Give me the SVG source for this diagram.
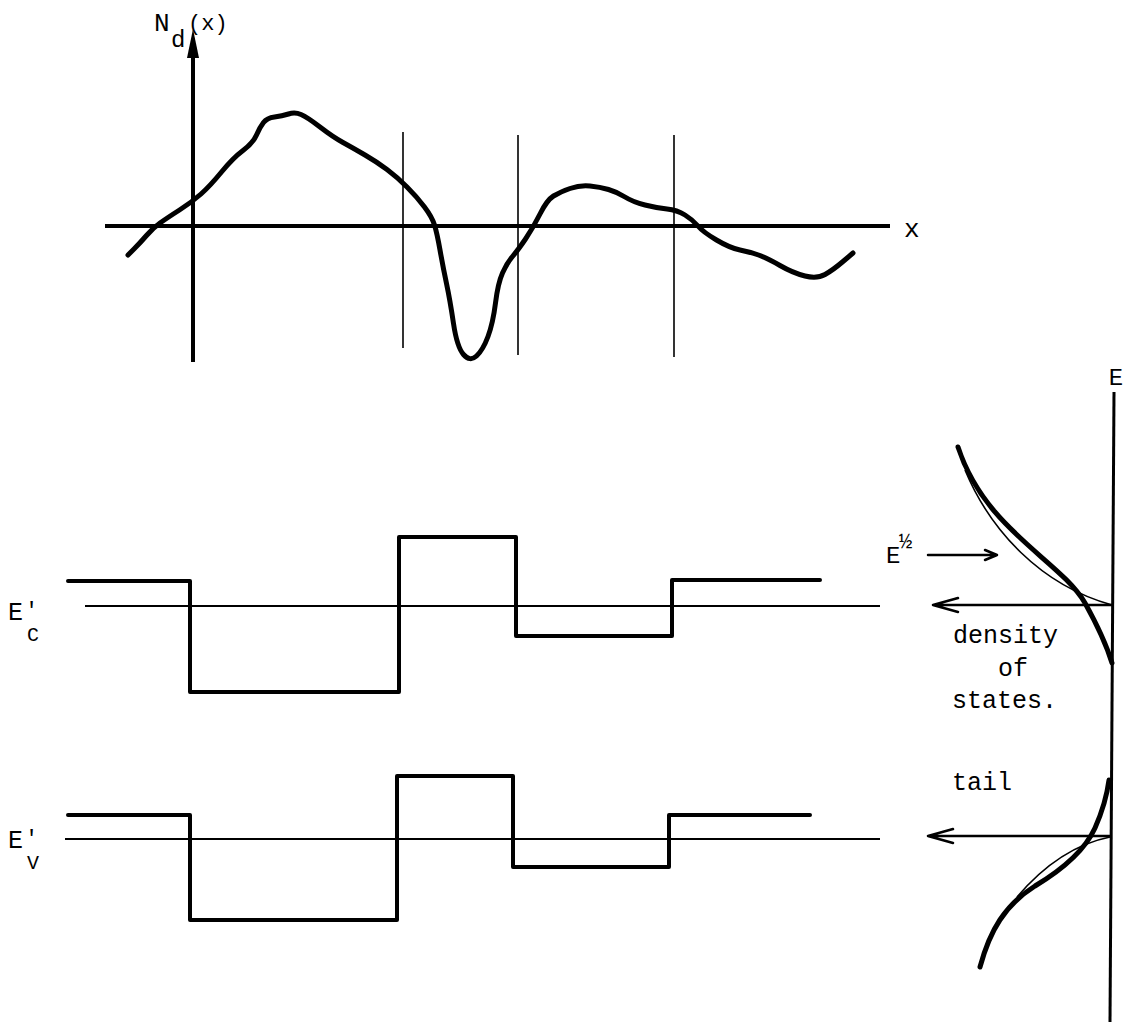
<svg xmlns="http://www.w3.org/2000/svg" width="1125" height="1025" viewBox="0 0 1125 1025">
<style>
.t{font-family:"Liberation Mono","Courier New",monospace;fill:#000}
.thick{fill:none;stroke:#000;stroke-width:5;stroke-linecap:round;stroke-linejoin:round}
.step{fill:none;stroke:#000;stroke-width:4;stroke-linejoin:round;stroke-linecap:round}
.thin{fill:none;stroke:#000;stroke-width:1.6}
.base{fill:none;stroke:#000;stroke-width:2}
.arr{fill:none;stroke:#000;stroke-width:2.5;stroke-linecap:round;stroke-linejoin:round}
</style>
<rect width="1125" height="1025" fill="#fff"/>

<g id="top-plot">
  <line x1="105" y1="226" x2="890" y2="226" stroke="#000" stroke-width="4"/>
  <line x1="193" y1="362" x2="193" y2="50" stroke="#000" stroke-width="4"/>
  <polygon points="193,29 187,58 199,58" fill="#000"/>
  <line class="thin" x1="403" y1="132" x2="403" y2="348"/>
  <line class="thin" x1="518" y1="135" x2="518" y2="355"/>
  <line class="thin" x1="674" y1="135" x2="674" y2="357"/>
  <path class="thick" d="M128 255 L134 249 Q140 243 146.5 235.5 Q153 228 160 223 Q167 218 179.5 210 Q192 202 201 194 Q210 186 221.5 172 Q233 158 243 150.5 Q253 143 256.5 135 Q260 127 263.5 122.5 Q267 118 274.5 117 Q282 116 288.5 114 Q295 112 301 114.5 Q307 117 320 127 Q333 137 343 142.5 Q353 148 365 155 Q377 162 387 169.5 Q397 177 407 187 Q417 197 424.5 207 Q432 217 434.5 225 Q437 233 440 250 Q443 267 446.5 283.5 Q450 300 453.5 323.5 Q457 347 463.5 354.5 Q470 362 476.5 356 Q483 350 488 336.5 Q493 323 495.5 303 Q498 283 502.5 273 Q507 263 512.5 256.5 Q518 250 525.5 239 Q533 228 540 214 Q547 200 553.5 196 Q560 192 570 188.5 Q580 185 590 186 Q600 187 608.5 189.5 Q617 192 625 197 Q633 202 645 205 Q657 208 667 209 Q677 210 685 215 Q693 220 698 226 Q703 232 716.5 240 Q730 248 740 250 Q750 252 758.5 255 Q767 258 780 265.5 Q793 273 805 276 Q817 279 825 274.5 Q833 270 843 261.5 L853 253"/>
  <text class="t" x="154" y="31" font-size="26">N<tspan x="171" y="47" font-size="24">d</tspan><tspan x="188" y="30" font-size="22">(x)</tspan></text>
  <text class="t" x="904" y="237" font-size="26">x</text>
</g>

<g id="conduction-band">
  <line class="base" x1="85" y1="606" x2="880" y2="606"/>
  <path class="step" d="M68 581 H190 V692 H399 V537 H516 V636 H672 V580 H820"/>
  <text class="t" x="8" y="620" font-size="25">E<tspan x="25" y="617" font-size="22">'</tspan></text>
  <text class="t" x="27" y="641" font-size="20">C</text>
</g>

<g id="valence-band">
  <line class="base" x1="65" y1="839" x2="880" y2="839"/>
  <path class="step" d="M68 815 H190 V920 H397 V776 H513 V867 H669 V815 H810"/>
  <text class="t" x="8" y="848" font-size="25">E<tspan x="25" y="845" font-size="22">'</tspan></text>
  <text class="t" x="27" y="869" font-size="20">V</text>
</g>

<g id="density-of-states">
  <line x1="1114" y1="392" x2="1110" y2="1022" stroke="#000" stroke-width="3"/>
  <text class="t" x="1116" y="385" font-size="24" text-anchor="middle">E</text>
  <path class="thick" d="M958 447 C985 530 1060 560 1085 603 C1100 630 1108 650 1112 663"/>
  <path class="thin" d="M965 470 C990 530 1040 585 1112 605"/>
  <path class="thick" d="M980 967 C990 930 1005 905 1035 886 C1065 868 1085 850 1095 828 C1103 810 1107 795 1109 780"/>
  <path class="thin" d="M1017 897 C1040 870 1070 845 1110 837"/>
  <text class="t" x="886" y="563" font-size="24">E<tspan x="899" y="548" font-size="22">½</tspan></text>
  <text class="t" x="953" y="643" font-size="25">density</text>
  <text class="t" x="998" y="676" font-size="25">of</text>
  <text class="t" x="952" y="708" font-size="25">states.</text>
  <text class="t" x="952" y="790" font-size="25">tail</text>
</g>

<g id="connectors">
  <path class="arr" d="M928 555 H997 M985 550 L997 555 L985 560"/>
  <path class="arr" d="M1112 605 H933 M958 598 L933 605 L958 612"/>
  <path class="arr" d="M1110 836 H928 M953 829 L928 836 L953 843"/>
</g>
</svg>
